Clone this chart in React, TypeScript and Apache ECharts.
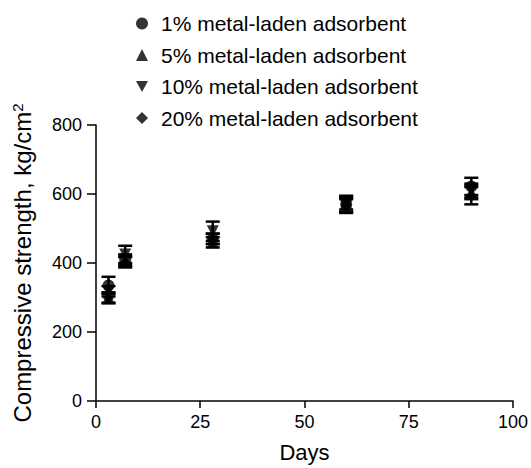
import React, { useEffect, useRef } from "react";
import * as echarts from "echarts";

const days = [3, 7, 28, 60, 90];
const seriesNames = [
  "1% metal-laden adsorbent",
  "5% metal-laden adsorbent",
  "10% metal-laden adsorbent",
  "20% metal-laden adsorbent",
];
const values1 = [335, 410, 470, 570, 622];
const values5 = [300, 405, 460, 575, 605];
const values10 = [318, 425, 492, 565, 610];
const values20 = [298, 402, 470, 568, 595];
const err1 = [25, 15, 15, 22, 25];
const err5 = [15, 15, 15, 20, 20];
const err10 = [15, 25, 28, 20, 20];
const err20 = [15, 15, 15, 20, 25];

const FONT = "'Liberation Sans', Arial, sans-serif";
const symbols = [
  "circle",
  "triangle",
  "path://M0,0 L10,0 L5,9 Z",
  "path://M5,0 L10,5 L5,10 L0,5 Z",
];
const symbolSizes = [12, 12, 12, 11];

export default function App() {
  const ref = useRef<HTMLDivElement>(null);
  useEffect(() => {
    if (!ref.current) return;
    const chart = echarts.init(ref.current, null, { renderer: "svg" });
    const allValues = [values1, values5, values10, values20];
    const allErr = [err1, err5, err10, err20];

    const errData: number[][] = [];
    allValues.forEach((vals, s) => {
      vals.forEach((v, i) => {
        errData.push([days[i], v - allErr[s][i], v + allErr[s][i]]);
      });
    });

    const scatterSeries = seriesNames.map((name, s) => ({
      name,
      type: "scatter",
      symbol: symbols[s],
      symbolSize: symbolSizes[s],
      itemStyle: { color: "#000" },
      data: days.map((d, i) => [d, allValues[s][i]]),
      z: 3,
    }));

    chart.setOption({
      animation: false,
      backgroundColor: "#fff",
      textStyle: { fontFamily: FONT },
      grid: { left: 96, right: 13, top: 125, bottom: 63 },
      legend: {
        orient: "vertical",
        left: 131,
        top: 8,
        itemWidth: 12,
        itemHeight: 12,
        itemGap: 10.5,
        data: seriesNames,
        textStyle: {
          fontSize: 21,
          lineHeight: 21,
          color: "#000",
          fontFamily: FONT,
          padding: [0, 0, 0, 8],
        },
      },
      xAxis: {
        type: "value",
        min: 0,
        max: 100,
        interval: 25,
        name: "Days",
        nameLocation: "middle",
        nameGap: 40,
        nameTextStyle: { fontSize: 22, color: "#000", fontFamily: FONT },
        axisLine: { show: true, lineStyle: { color: "#000", width: 1.5 } },
        axisTick: { show: true, length: 7, lineStyle: { color: "#000", width: 1.5 } },
        axisLabel: { fontSize: 18, color: "#000", margin: 12, fontFamily: FONT },
        splitLine: { show: false },
      },
      yAxis: {
        type: "value",
        min: 0,
        max: 800,
        interval: 200,
        name: "Compressive strength, kg/cm{sup|2}",
        nameLocation: "middle",
        nameGap: 62,
        nameTextStyle: {
          fontSize: 24,
          color: "#000",
          fontFamily: FONT,
          rich: {
            sup: { fontSize: 15, verticalAlign: "top", color: "#000", fontFamily: FONT, padding: [0, 0, 7, 0] },
          },
        },
        axisLine: { show: true, lineStyle: { color: "#000", width: 1.5 } },
        axisTick: { show: true, length: 9, lineStyle: { color: "#000", width: 1.5 } },
        axisLabel: { fontSize: 18, color: "#000", margin: 14, fontFamily: FONT },
        splitLine: { show: false },
      },
      series: [
        {
          name: "errorbars",
          type: "custom",
          data: errData,
          z: 2,
          renderItem: (params: any, api: any) => {
            const x = api.value(0);
            const lo = api.coord([x, api.value(1)]);
            const hi = api.coord([x, api.value(2)]);
            const hw = 7;
            const style = { stroke: "#000", lineWidth: 2.5 };
            return {
              type: "group",
              children: [
                { type: "line", shape: { x1: lo[0], y1: lo[1], x2: hi[0], y2: hi[1] }, style },
                { type: "line", shape: { x1: hi[0] - hw, y1: hi[1], x2: hi[0] + hw, y2: hi[1] }, style },
                { type: "line", shape: { x1: lo[0] - hw, y1: lo[1], x2: lo[0] + hw, y2: lo[1] }, style },
              ],
            };
          },
        },
        ...scatterSeries,
      ],
    });
    return () => chart.dispose();
  }, []);
  return (
    <div
      ref={ref}
      style={{ position: "fixed", left: 0, top: 0, width: 531, height: 468, background: "#fff" }}
    />
  );
}
